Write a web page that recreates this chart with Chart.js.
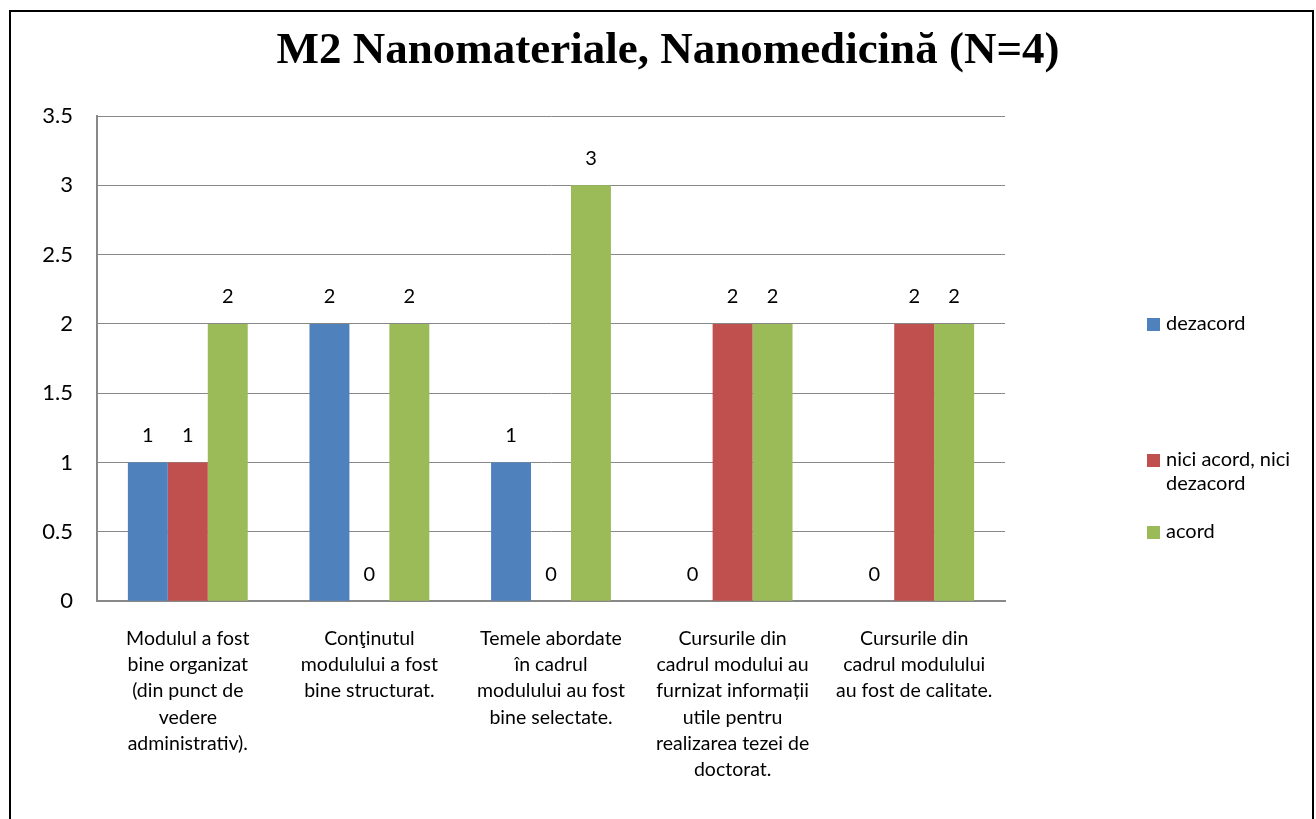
<!DOCTYPE html>
<html>
<head>
<meta charset="utf-8">
<script src="https://cdn.jsdelivr.net/npm/chart.js@4/dist/chart.umd.min.js"></script>
<style>
  html, body { margin: 0; padding: 0; background: #fff; overflow: hidden; }
  #wrap { position: relative; width: 1316px; height: 819px; }
  #frame { position: absolute; left: 9px; top: 10px; width: 1305px; height: 820px;
           border: 2px solid #000; border-bottom: none; box-sizing: border-box; }
  canvas { position: absolute; left: 0; top: 0; }
</style>
</head>
<body>
<div id="wrap">
  <div id="frame"></div>
  <canvas id="chart" width="1316" height="819"></canvas>
</div>
<script>
// categories (multi-line, as wrapped in the original)
const categories = [
  ["Modulul a fost", "bine organizat", "(din punct de", "vedere", "administrativ)."],
  ["Conţinutul", "modulului a fost", "bine structurat."],
  ["Temele abordate", "în cadrul", "modulului au fost", "bine selectate."],
  ["Cursurile din", "cadrul modului au", "furnizat informații", "utile pentru", "realizarea tezei de", "doctorat."],
  ["Cursurile din", "cadrul modulului", "au fost de calitate."]
];
const dezacord = [1, 2, 1, 0, 0];
const niciAcord = [1, 0, 0, 2, 2];
const acord = [2, 2, 3, 2, 2];
const seriesNames = ["dezacord", ["nici acord, nici", "dezacord"], "acord"];
const colors = ["#4F81BD", "#C0504D", "#9BBB59"];
const chartTitle = "M2 Nanomateriale, Nanomedicină (N=4)";

const labelFont = "Lato, 'Open Sans', sans-serif";

// title centred on the whole picture, not just the plot
const pageTitle = {
  id: "pageTitle",
  afterDraw(chart) {
    const ctx = chart.ctx;
    ctx.save();
    ctx.font = "bold 45px 'Liberation Serif', serif";
    ctx.fillStyle = "#000";
    ctx.textAlign = "center";
    ctx.textBaseline = "middle";
    ctx.fillText(chartTitle, 668, 51);
    ctx.restore();
  }
};

// value labels above each bar
const valueLabels = {
  id: "valueLabels",
  afterDatasetsDraw(chart) {
    const ctx = chart.ctx;
    ctx.save();
    ctx.font = "20px " + labelFont;
    ctx.fillStyle = "#000";
    ctx.textAlign = "center";
    ctx.textBaseline = "middle";
    chart.data.datasets.forEach((ds, i) => {
      chart.getDatasetMeta(i).data.forEach((bar, j) => {
        ctx.fillText(String(ds.data[j]), bar.x, bar.y - 27);
      });
    });
    ctx.restore();
  }
};

// legend on the right, spaced like the original
const sideLegend = {
  id: "sideLegend",
  afterDraw(chart) {
    const ctx = chart.ctx;
    const ys = [324, 460, 532];
    ctx.save();
    ctx.font = "20px " + labelFont;
    ctx.textBaseline = "middle";
    ctx.textAlign = "left";
    seriesNames.forEach((name, i) => {
      ctx.fillStyle = colors[i];
      ctx.fillRect(1147, ys[i] - 6, 13, 13);
      ctx.fillStyle = "#000";
      const lines = Array.isArray(name) ? name : [name];
      lines.forEach((ln, k) => ctx.fillText(ln, 1166, ys[i] + k * 24));
    });
    ctx.restore();
  }
};

new Chart(document.getElementById("chart"), {
  type: "bar",
  data: {
    labels: categories,
    datasets: [
      { label: "dezacord", data: dezacord, backgroundColor: colors[0] },
      { label: "nici acord, nici dezacord", data: niciAcord, backgroundColor: colors[1] },
      { label: "acord", data: acord, backgroundColor: colors[2] }
    ]
  },
  options: {
    responsive: false,
    animation: false,
    devicePixelRatio: 1,
    layout: { padding: { left: 20, right: 311, top: 116, bottom: 12 } },
    datasets: { bar: { barPercentage: 1, categoryPercentage: 0.66 } },
    plugins: {
      legend: { display: false },
      tooltip: { enabled: false },
      title: { display: false }
    },
    scales: {
      x: {
        grid: { display: false, drawTicks: false },
        border: { display: true, color: "#888", width: 2 },
        ticks: {
          color: "#000",
          padding: 24,
          maxRotation: 0,
          autoSkip: false,
          font: { family: labelFont, size: 19.5, lineHeight: "26.3px" }
        }
      },
      y: {
        min: 0,
        max: 3.5,
        afterFit(scale) { scale.width = 77; },
        grid: { color: "#888", lineWidth: 1, drawTicks: false },
        border: { display: true, color: "#888", width: 2 },
        ticks: {
          stepSize: 0.5,
          color: "#000",
          padding: 24,
          font: { family: labelFont, size: 22 },
          callback: (v) => String(v)
        }
      }
    }
  },
  plugins: [valueLabels, sideLegend, pageTitle]
});
</script>
</body>
</html>
